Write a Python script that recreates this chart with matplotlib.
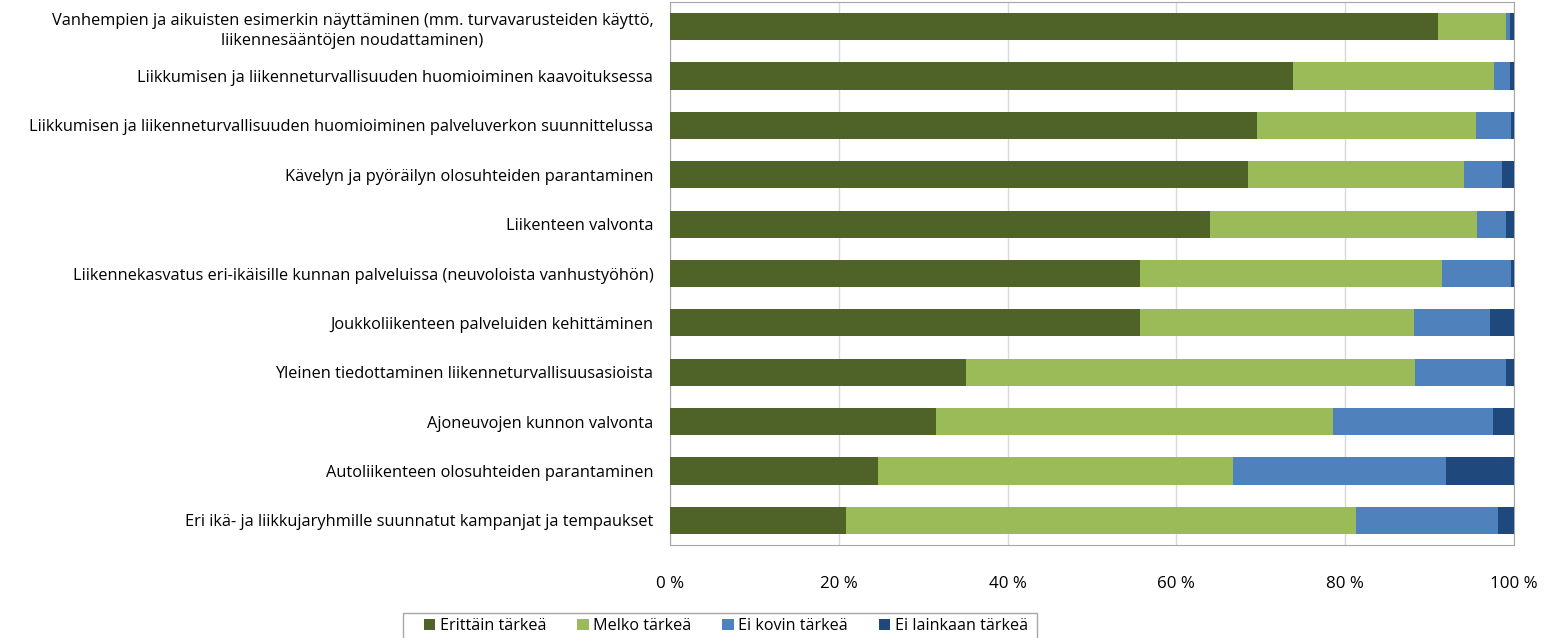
import matplotlib.pyplot as plt
from matplotlib.patches import Rectangle
import numpy as np

plt.rcParams['font.family'] = ['Open Sans', 'DejaVu Sans']

# Data (percent shares per category)
categories = [
    "Vanhempien ja aikuisten esimerkin näyttäminen (mm. turvavarusteiden käyttö,\nliikennesääntöjen noudattaminen)",
    "Liikkumisen ja liikenneturvallisuuden huomioiminen kaavoituksessa",
    "Liikkumisen ja liikenneturvallisuuden huomioiminen palveluverkon suunnittelussa",
    "Kävelyn ja pyöräilyn olosuhteiden parantaminen",
    "Liikenteen valvonta",
    "Liikennekasvatus eri-ikäisille kunnan palveluissa (neuvoloista vanhustyöhön)",
    "Joukkoliikenteen palveluiden kehittäminen",
    "Yleinen tiedottaminen liikenneturvallisuusasioista",
    "Ajoneuvojen kunnon valvonta",
    "Autoliikenteen olosuhteiden parantaminen",
    "Eri ikä- ja liikkujaryhmille suunnatut kampanjat ja tempaukset",
]
erittain = [91.0, 73.8, 69.5, 68.5, 64.0, 55.7, 55.7, 35.1, 31.5, 24.6, 20.9]
melko = [8.0, 23.8, 26.0, 25.6, 31.6, 35.8, 32.4, 53.2, 47.1, 42.1, 60.4]
ei_kovin = [0.5, 1.9, 4.1, 4.5, 3.5, 8.1, 9.0, 10.8, 18.9, 25.3, 16.8]
ei_lainkaan = [0.5, 0.5, 0.4, 1.4, 0.9, 0.4, 2.9, 0.9, 2.5, 8.0, 1.9]

series = [erittain, melko, ei_kovin, ei_lainkaan]
names = ["Erittäin tärkeä", "Melko tärkeä", "Ei kovin tärkeä", "Ei lainkaan tärkeä"]
colors = ["#4F6228", "#9BBB59", "#4F81BD", "#1F497D"]
xticks = [0, 20, 40, 60, 80, 100]

W, H = 1554, 638
fig = plt.figure(figsize=(W / 100, H / 100), dpi=100)
ax = fig.add_axes([670 / W, 1 - 545 / H, 844 / W, 543 / H])

y = np.arange(len(categories))
left = np.zeros(len(categories))
for vals, name, col in zip(series, names, colors):
    ax.barh(y, vals, left=left, height=0.55, color=col, label=name, zorder=3)
    left += np.array(vals)

ax.set_xlim(0, 100)
ax.set_ylim(len(categories) - 0.5, -0.5)
ax.set_yticks(y)
ax.set_yticklabels(categories, fontsize=11.8, multialignment='center', linespacing=1.35)
ax.set_xticks(xticks)
ax.set_xticklabels([f"{t} %" for t in xticks], fontsize=12.2)
ax.tick_params(axis='both', length=0)
ax.tick_params(axis='x', pad=22)
ax.tick_params(axis='y', pad=12)
ax.grid(axis='x', color='#D9D9D9', linewidth=1, zorder=0)
for s in ax.spines.values():
    s.set_color('#A6A6A6')

# legend box runs off the bottom edge like in the original
fig.patches.append(Rectangle((403 / W, -0.05), (1037 - 403) / W, 1 - 613 / H + 0.05,
                             transform=fig.transFigure, fill=False,
                             edgecolor='#A6A6A6', linewidth=1))
fig.legend(loc='center', bbox_to_anchor=(726 / W, 1 - 626 / H), ncol=4,
           fontsize=11.6, frameon=False,
           handlelength=0.7, handleheight=0.7, handletextpad=0.3,
           columnspacing=1.9, borderpad=0, borderaxespad=0)

fig.savefig("out.png", dpi=100)
